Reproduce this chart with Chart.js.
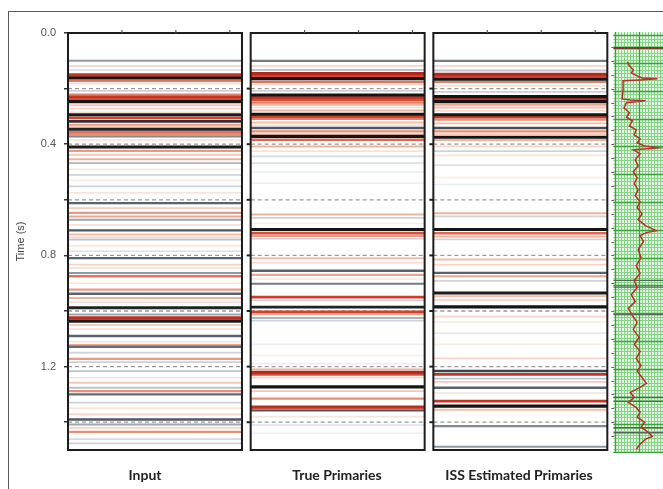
<!DOCTYPE html>
<html>
<head>
<meta charset="utf-8">
<script src="https://cdn.jsdelivr.net/npm/chart.js@4.4.1/dist/chart.umd.min.js"></script>
<style>
  html, body { margin: 0; padding: 0; background: #fff; overflow: hidden; }
  #wrap { position: relative; width: 663px; height: 489px; }
</style>
</head>
<body>
<div id="wrap"><canvas id="c" width="663" height="489"></canvas></div>
<script>
// ---- Section labels and time axis ----
const sectionNames = ['Input', 'True Primaries', 'ISS Estimated Primaries'];
const timeTicks = [0, 0.2, 0.4, 0.6, 0.8, 1.0, 1.2, 1.4];
const tickLabels = ['0.0', '', '0.4', '', '0.8', '', '1.2', ''];
const markerTimes = [0.2, 0.4, 0.6, 0.8, 1.0, 1.2, 1.4];

// ---- Reflection events: two-way time (s) and signed amplitude ----
const inputTimes = [0.100, 0.118, 0.133, 0.150, 0.157, 0.162, 0.172, 0.182, 0.208, 0.222, 0.230, 0.238, 0.247, 0.260, 0.272, 0.285,
  0.294, 0.305, 0.318, 0.330, 0.338, 0.346, 0.356, 0.364, 0.372, 0.385, 0.410, 0.424, 0.438, 0.454, 0.468, 0.490, 0.510, 0.530,
  0.552, 0.575, 0.612, 0.630, 0.647, 0.660, 0.672, 0.690, 0.710, 0.725, 0.735, 0.743, 0.765, 0.785, 0.810, 0.833, 0.845, 0.863,
  0.875, 0.900, 0.923, 0.938, 0.953, 0.968, 0.988, 1.013, 1.024, 1.030, 1.037, 1.050, 1.065, 1.090, 1.110, 1.124, 1.129, 1.150,
  1.172, 1.184, 1.216, 1.240, 1.258, 1.276, 1.288, 1.300, 1.330, 1.350, 1.372, 1.390, 1.408, 1.420, 1.435, 1.461, 1.476];
const inputAmps = [0.35, -0.15, 0.12, -0.85, -0.7, 1.0, -0.55, -0.12, 0.15, -0.5, -0.85, -0.7, 1.0, -0.2, -0.15, -0.1,
  0.95, -0.75, 0.8, -0.4, -0.2, 0.9, -0.55, -0.45, 0.4, -0.1, 0.95, -0.4, -0.2, -0.3, 0.25, -0.08, 0.15, -0.06,
  0.15, -0.08, 0.55, -0.18, -0.4, -0.35, 0.3, -0.1, 0.6, -0.25, -0.15, 0.2, -0.08, 0.1, 0.55, -0.15, -0.1, 0.35,
  -0.55, -0.08, -0.4, 0.55, -0.3, -0.1, 0.9, 0.3, -0.9, -0.6, 0.95, -0.2, -0.1, 0.55, -0.08, -0.45, 0.5, 0.15,
  -0.4, 0.15, 0.2, -0.08, -0.2, 0.2, -0.45, 0.5, 0.15, -0.08, -0.15, 0.6, 0.3, -0.15, -0.45, 0.12, 0.15];

const primaryTimes = [0.100, 0.118, 0.133, 0.146, 0.153, 0.158, 0.164, 0.176, 0.185, 0.208, 0.223, 0.232, 0.240, 0.250, 0.258, 0.268,
  0.279, 0.292, 0.301, 0.309, 0.322, 0.332, 0.342, 0.354, 0.364, 0.372, 0.384, 0.408, 0.425, 0.444, 0.468, 0.500, 0.540,
  0.653, 0.665, 0.685, 0.707, 0.720, 0.730, 0.740, 0.810, 0.826, 0.855, 0.870, 0.885, 0.902, 0.950, 0.962, 0.986, 1.003,
  1.012, 1.025, 1.035, 1.120, 1.160, 1.190, 1.210, 1.220, 1.228, 1.240, 1.273, 1.288, 1.315, 1.345, 1.352, 1.357, 1.380,
  1.410, 1.440];
const primaryAmps = [0.45, -0.15, 0.2, -0.95, -0.75, -0.6, 1.0, -0.55, -0.15, 0.15, 1.0, -0.85, -0.7, -0.5, -0.3, -0.12,
  -0.3, 1.0, -0.75, -0.5, -0.25, -0.1, 0.6, -0.45, -0.2, 1.0, -0.6, -0.3, -0.1, 0.12, 0.1, 0.06, 0.05,
  -0.3, 0.15, -0.06, 1.0, -0.7, -0.4, 0.15, -0.25, -0.12, 0.55, -0.35, -0.08, 0.45, -0.8, 0.15, 0.9, -0.75,
  -0.35, 0.25, 0.15, 0.05, -0.05, 0.06, -0.3, -0.95, -0.7, -0.15, 1.0, -0.2, -0.45, -0.9, -0.6, 0.6, -0.08,
  0.1, 0.05];

const estimateTimes = [0.100, 0.118, 0.135, 0.148, 0.155, 0.166, 0.176, 0.190, 0.212, 0.229, 0.237, 0.247, 0.258, 0.268, 0.280,
  0.294, 0.303, 0.312, 0.325, 0.342, 0.354, 0.364, 0.375, 0.385, 0.408, 0.425, 0.440, 0.475, 0.520, 0.545, 0.648, 0.660,
  0.707, 0.720, 0.732, 0.742, 0.815, 0.833, 0.863, 0.875, 0.892, 0.935, 0.947, 0.960, 0.985, 1.020, 1.040, 1.080, 1.120,
  1.170, 1.216, 1.228, 1.243, 1.255, 1.276, 1.295, 1.324, 1.342, 1.355, 1.414, 1.488];
const estimateAmps = [0.45, -0.15, 0.2, -0.95, -0.75, 1.0, -0.5, -0.1, 0.15, 1.0, -0.85, 1.0, -0.35, -0.25, -0.12,
  1.0, -0.8, -0.45, -0.25, 0.65, -0.45, -0.2, 1.0, -0.3, -0.15, 0.15, -0.08, 0.1, -0.06, 0.06, -0.3, 0.15,
  1.0, -0.6, -0.3, 0.15, -0.25, -0.15, 0.55, -0.35, 0.15, 0.95, -0.25, -0.15, 1.0, -0.15, -0.06, 0.08, -0.06,
  -0.15, 0.7, -0.85, 0.2, -0.2, 0.55, -0.1, -0.85, 1.0, -0.25, 0.4, 0.35];

// ---- Well log (time in s, log reading 0-100 across the track) ----
const logTimes = [0.104, 0.118, 0.133, 0.144, 0.154, 0.162, 0.165, 0.169, 0.172, 0.205, 0.237, 0.241, 0.244, 0.251, 0.269, 0.287,
  0.302, 0.316, 0.334, 0.348, 0.366, 0.381, 0.395, 0.406, 0.413, 0.420, 0.434, 0.456, 0.478, 0.499, 0.521, 0.542, 0.564,
  0.585, 0.607, 0.628, 0.650, 0.671, 0.693, 0.711, 0.718, 0.729, 0.750, 0.779, 0.808, 0.837, 0.865, 0.890, 0.916, 0.941,
  0.966, 0.991, 1.016, 1.041, 1.066, 1.095, 1.120, 1.145, 1.171, 1.196, 1.217, 1.239, 1.260, 1.275, 1.293, 1.311, 1.329,
  1.347, 1.364, 1.382, 1.400, 1.418, 1.436, 1.451, 1.461, 1.479, 1.497];
const logValues = [27, 31, 39, 35, 47, 57, 88, 53, 18, 18, 16, 33, 64, 25, 20, 31,
  25, 37, 31, 45, 41, 53, 47, 62, 90, 39, 53, 43, 49, 39, 47, 41, 49,
  43, 53, 47, 57, 49, 64, 86, 66, 53, 60, 49, 55, 45, 53, 41, 47, 35,
  43, 29, 37, 47, 39, 51, 41, 53, 45, 55, 47, 57, 66, 53, 33, 41, 29,
  45, 53, 47, 62, 55, 70, 78, 64, 53, 45];
const logMarkerTimes = [0.054, 0.890, 0.914, 1.013, 1.311, 1.325, 1.420, 1.438];

// ---- Layout in x-axis units (each section is one unit wide) ----
const sectionStarts = [0, 1.05, 2.1];
const sectionWidth = 1;
const logStart = 3.14;
const xMax = 3.42;
const labelPositions = [0.443, 1.546, 2.592];
const topTickFractions = [0.31, 0.62, 0.93];

// Amplitude colour scale: troughs red, peaks black
const colorStops = [
  [-1.0, [172, 34, 22]], [-0.75, [212, 66, 46]], [-0.5, [228, 130, 104]], [-0.25, [242, 190, 168]],
  [-0.08, [250, 228, 218]], [0, [255, 255, 255]], [0.08, [226, 230, 236]], [0.25, [172, 180, 192]],
  [0.5, [98, 108, 122]], [0.75, [52, 56, 64]], [1.0, [20, 20, 20]]
];
function ampColor(a) {
  for (let i = 0; i < colorStops.length - 1; i++) {
    const [a0, c0] = colorStops[i], [a1, c1] = colorStops[i + 1];
    if (a >= a0 && a <= a1) {
      const f = (a - a0) / (a1 - a0);
      const c = c0.map((v, k) => Math.round(v + (c1[k] - v) * f));
      return `rgb(${c[0]},${c[1]},${c[2]})`;
    }
  }
  return 'rgb(20,20,20)';
}

const datasets = [];
function addSection(times, amps, start) {
  times.forEach((t, i) => {
    const a = amps[i];
    datasets.push({
      data: [{ x: start, y: t }, { x: start + sectionWidth, y: t }],
      borderColor: ampColor(a),
      borderWidth: 1.5 + 1.6 * Math.abs(a),
      order: Math.round((1 - Math.abs(a)) * 100)
    });
  });
  markerTimes.forEach(t => {
    datasets.push({
      data: [{ x: start, y: t }, { x: start + sectionWidth, y: t }],
      borderColor: '#a09696',
      borderWidth: 1.3,
      borderDash: [4, 3],
      order: 40
    });
  });
}
addSection(inputTimes, inputAmps, sectionStarts[0]);
addSection(primaryTimes, primaryAmps, sectionStarts[1]);
addSection(estimateTimes, estimateAmps, sectionStarts[2]);

// Well-log curve across the log track
const logTrackWidth = xMax - logStart;
datasets.push({
  data: logTimes.map((t, i) => ({ x: logStart + logValues[i] / 100 * logTrackWidth, y: t })),
  borderColor: '#bb2f28',
  borderWidth: 1.5,
  order: 0
});

// Page frame and white background
const framePlugin = {
  id: 'pageFrame',
  beforeDraw(chart) {
    const ctx = chart.ctx;
    ctx.save();
    ctx.fillStyle = '#fff';
    ctx.fillRect(0, 0, chart.width, chart.height);
    ctx.strokeStyle = '#5a5a5a';
    ctx.lineWidth = 1;
    ctx.strokeRect(8.5, 11.5, chart.width + 20, chart.height + 20);
    ctx.restore();
  }
};

// Green chart-paper grid behind the well log
const logTrackPlugin = {
  id: 'logTrack',
  beforeDatasetsDraw(chart) {
    const { ctx } = chart;
    const xs = chart.scales.x, ys = chart.scales.y;
    const x0 = xs.getPixelForValue(logStart) - 1, x1 = xs.getPixelForValue(xMax);
    const y0 = ys.getPixelForValue(0) - 1, y1 = ys.getPixelForValue(1.5) + 3;
    ctx.save();
    ctx.beginPath();
    ctx.rect(x0, y0, x1 - x0, y1 - y0);
    ctx.clip();
    ctx.fillStyle = '#e4f6e4';
    ctx.fillRect(x0, y0, x1 - x0, y1 - y0);
    // minor lines
    ctx.strokeStyle = '#86d286';
    ctx.lineWidth = 1;
    const major = 0.138, minor = major / 8;
    for (let v = logStart + 0.004; v <= xMax + 0.01; v += minor) {
      const px = Math.round(xs.getPixelForValue(v)) + 0.5;
      ctx.beginPath(); ctx.moveTo(px, y0); ctx.lineTo(px, y1); ctx.stroke();
    }
    for (let t = 0.008; t <= 1.52; t += 0.0125) {
      const py = Math.round(ys.getPixelForValue(t)) + 0.5;
      ctx.beginPath(); ctx.moveTo(x0, py); ctx.lineTo(x1, py); ctx.stroke();
    }
    // major lines
    ctx.strokeStyle = '#38a438';
    ctx.lineWidth = 1.3;
    for (let v = logStart + 0.004; v <= xMax + 0.01; v += major) {
      const px = Math.round(xs.getPixelForValue(v)) + 0.5;
      ctx.beginPath(); ctx.moveTo(px, y0); ctx.lineTo(px, y1); ctx.stroke();
    }
    for (let t = 0.008; t <= 1.52; t += 0.1) {
      const py = Math.round(ys.getPixelForValue(t)) + 0.5;
      ctx.beginPath(); ctx.moveTo(x0, py); ctx.lineTo(x1, py); ctx.stroke();
    }
    // marker horizons on the log track
    logMarkerTimes.forEach((t, i) => {
      const py = ys.getPixelForValue(t);
      ctx.strokeStyle = i === 0 ? '#7b3b2c' : '#4f6a52';
      ctx.lineWidth = i === 0 ? 2 : 1.3;
      ctx.beginPath(); ctx.moveTo(x0, py); ctx.lineTo(x1, py); ctx.stroke();
    });
    ctx.restore();
    // depth ticks along the left edge of the track
    ctx.save();
    ctx.strokeStyle = '#666';
    ctx.lineWidth = 1;
    for (let t = 0.05; t < 1.5; t += 0.05) {
      const py = Math.round(ys.getPixelForValue(t)) + 0.5;
      ctx.beginPath(); ctx.moveTo(x0 - 2, py); ctx.lineTo(x0 + 1, py); ctx.stroke();
    }
    ctx.restore();
  }
};

// Section frames and their tick marks
const sectionFramePlugin = {
  id: 'sectionFrames',
  afterDatasetsDraw(chart) {
    const ctx = chart.ctx;
    const xs = chart.scales.x, ys = chart.scales.y;
    const yTop = ys.getPixelForValue(0), yBot = ys.getPixelForValue(1.5);
    ctx.save();
    sectionStarts.forEach((s, k) => {
      const xl = xs.getPixelForValue(s), xr = xs.getPixelForValue(s + sectionWidth);
      ctx.strokeStyle = '#1c1c1c';
      ctx.lineWidth = 2;
      ctx.strokeRect(xl, yTop, xr - xl, yBot - yTop);
      ctx.strokeStyle = '#555';
      ctx.lineWidth = 1.2;
      topTickFractions.forEach(f => {
        const px = xs.getPixelForValue(s + f * sectionWidth);
        ctx.beginPath(); ctx.moveTo(px, yTop - 3); ctx.lineTo(px, yTop); ctx.stroke();
      });
      if (k > 0) {
        ctx.strokeStyle = '#222';
        ctx.lineWidth = 2;
        timeTicks.slice(1).forEach(t => {
          const py = ys.getPixelForValue(t);
          ctx.beginPath(); ctx.moveTo(xl - 4, py); ctx.lineTo(xl, py); ctx.stroke();
        });
      }
    });
    ctx.restore();
  }
};

new Chart(document.getElementById('c'), {
  type: 'scatter',
  data: { datasets: datasets.map(d => Object.assign({ showLine: true, pointRadius: 0, fill: false, tension: 0 }, d)) },
  options: {
    responsive: false,
    animation: false,
    events: [],
    layout: { padding: { top: 33, left: 0, right: 0, bottom: 0 } },
    plugins: { legend: { display: false }, tooltip: { enabled: false } },
    scales: {
      x: {
        type: 'linear', min: 0, max: xMax, position: 'bottom',
        grid: { display: false }, border: { display: false },
        afterBuildTicks: ax => { ax.ticks = labelPositions.map(v => ({ value: v })); },
        afterFit: ax => { ax.height = 39; },
        ticks: {
          autoSkip: false, maxRotation: 0, padding: 9,
          font: { family: 'Lato', weight: 'bold', size: 14 }, color: '#222',
          callback: (v, i) => sectionNames[i]
        }
      },
      y: {
        type: 'linear', reverse: true, min: 0, max: 1.5,
        afterBuildTicks: ax => { ax.ticks = timeTicks.map(v => ({ value: v })); },
        afterFit: ax => { ax.width = 68; },
        grid: { drawOnChartArea: false, tickLength: 4, color: '#333', lineWidth: 1.5 },
        border: { display: false },
        ticks: {
          padding: 8, autoSkip: false,
          font: { family: 'Liberation Sans', size: 11 }, color: '#555',
          callback: (v, i) => tickLabels[i]
        },
        title: {
          display: true, text: 'Time (s)', color: '#444',
          font: { family: 'Liberation Sans', size: 11 },
          padding: { top: 14, bottom: 0 }
        }
      }
    }
  },
  plugins: [framePlugin, logTrackPlugin, sectionFramePlugin]
});
</script>
</body>
</html>
